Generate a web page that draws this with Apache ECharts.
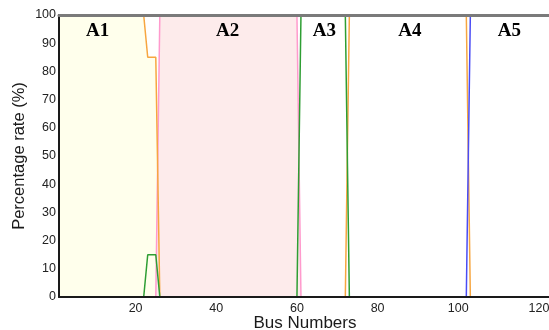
<!DOCTYPE html>
<html>
<head>
<meta charset="utf-8">
<script src="https://cdn.jsdelivr.net/npm/echarts@6/dist/echarts.min.js"></script>
<style>
html,body{margin:0;padding:0;background:#fff;}
#main{width:549px;height:330px;}
</style>
</head>
<body>
<div id="main"></div>
<script>
// Data (bus number -> percentage)
var xTickLabels = [20, 40, 60, 80, 100, 120];
var yTickLabels = [0, 10, 20, 30, 40, 50, 60, 70, 80, 90, 100];

var orangeX = [1, 22, 23, 25, 26, 72, 73, 102, 103, 123];
var orangeY = [100, 100, 85, 85, 0, 0, 100, 100, 0, 0];

var greenX = [1, 22, 23, 25, 26, 60, 61, 72, 73, 123];
var greenY = [0, 0, 15, 15, 0, 0, 100, 100, 0, 0];

var pinkX = [1, 25, 26, 60, 61, 123];
var pinkY = [0, 0, 100, 100, 0, 0];

var blueX = [1, 102, 103, 123];
var blueY = [0, 0, 100, 100];

// Region A1 shading follows the orange curve up to bus 26
var fillA1X = [1, 22, 23, 25, 26];
var fillA1Y = [100, 100, 85, 85, 0];

var regionNames = ['A1', 'A2', 'A3', 'A4', 'A5'];
var regionX = [10.6, 42.8, 66.8, 88, 112.7];
var regionY = 94.3;

function pairs(xs, ys) { return xs.map(function (x, i) { return [x, ys[i]]; }); }

var chart = echarts.init(document.getElementById('main'), null, {renderer: 'canvas'});

var lineBase = {type: 'line', symbol: 'none', smooth: false, animation: false};

var option = {
  backgroundColor: '#ffffff',
  animation: false,
  grid: {left: 59, top: 15, bottom: 33, right: -2, containLabel: false, outerBoundsMode: 'none'},
  xAxis: [{
    type: 'value', min: 1, max: 123, z: 20,
    name: 'Bus Numbers', nameLocation: 'middle', nameGap: 18, nameMoveOverlap: false,
    nameTextStyle: {fontFamily: 'Liberation Sans, Arial', fontSize: 17, color: '#1a1a1a'},
    axisLine: {show: true, onZero: false, lineStyle: {color: '#1a1a1a', width: 2}},
    axisTick: {show: false},
    splitLine: {show: false},
    axisLabel: {customValues: xTickLabels, margin: 5, color: '#222', fontFamily: 'Liberation Sans, Arial', fontSize: 12.5}
  }, {
    type: 'value', min: 1, max: 123, position: 'top', z: 20,
    axisLine: {show: true, onZero: false, lineStyle: {color: '#7a7a7a', width: 3}},
    axisTick: {show: false}, axisLabel: {show: false}, splitLine: {show: false}
  }],
  yAxis: {
    type: 'value', min: 0, max: 100, interval: 10, z: 20,
    name: 'Percentage rate (%)', nameLocation: 'middle', nameGap: 31, nameMoveOverlap: false,
    nameTextStyle: {fontFamily: 'Liberation Sans, Arial', fontSize: 16.5, color: '#1a1a1a'},
    axisLine: {show: true, lineStyle: {color: '#1a1a1a', width: 2}},
    axisTick: {show: false},
    splitLine: {show: false},
    axisLabel: {margin: 3, color: '#222', fontFamily: 'Liberation Sans, Arial', fontSize: 12.5,
      customValues: yTickLabels}
  },
  series: [
    Object.assign({}, lineBase, {
      name: 'fillA1', data: pairs(fillA1X, fillA1Y), z: 1,
      lineStyle: {width: 0, opacity: 0},
      areaStyle: {color: '#FFFFEC', opacity: 1}
    }),
    Object.assign({}, lineBase, {
      name: 'pink', data: pairs(pinkX, pinkY), z: 2,
      lineStyle: {color: '#FF9ACD', width: 1.5},
      areaStyle: {color: '#FDEBEB', opacity: 1}
    }),
    Object.assign({}, lineBase, {
      name: 'orange', data: pairs(orangeX, orangeY), z: 3,
      lineStyle: {color: '#F7A640', width: 1.5}
    }),
    Object.assign({}, lineBase, {
      name: 'green', data: pairs(greenX, greenY), z: 4,
      lineStyle: {color: '#2E9E33', width: 1.5}
    }),
    Object.assign({}, lineBase, {
      name: 'blue', data: pairs(blueX, blueY), z: 5,
      lineStyle: {color: '#4A4CF5', width: 1.5}
    }),
    {
      type: 'scatter', name: 'regions', symbolSize: 0, z: 10, silent: true,
      data: regionNames.map(function (n, i) { return {name: n, value: [regionX[i], regionY]}; }),
      itemStyle: {opacity: 1},
      label: {show: true, position: 'inside', formatter: '{b}', opacity: 1,
        fontFamily: 'Liberation Serif, Times New Roman', fontWeight: 'bold', fontSize: 19, color: '#000'}
    }
  ]
};
chart.setOption(option);
</script>
</body>
</html>
